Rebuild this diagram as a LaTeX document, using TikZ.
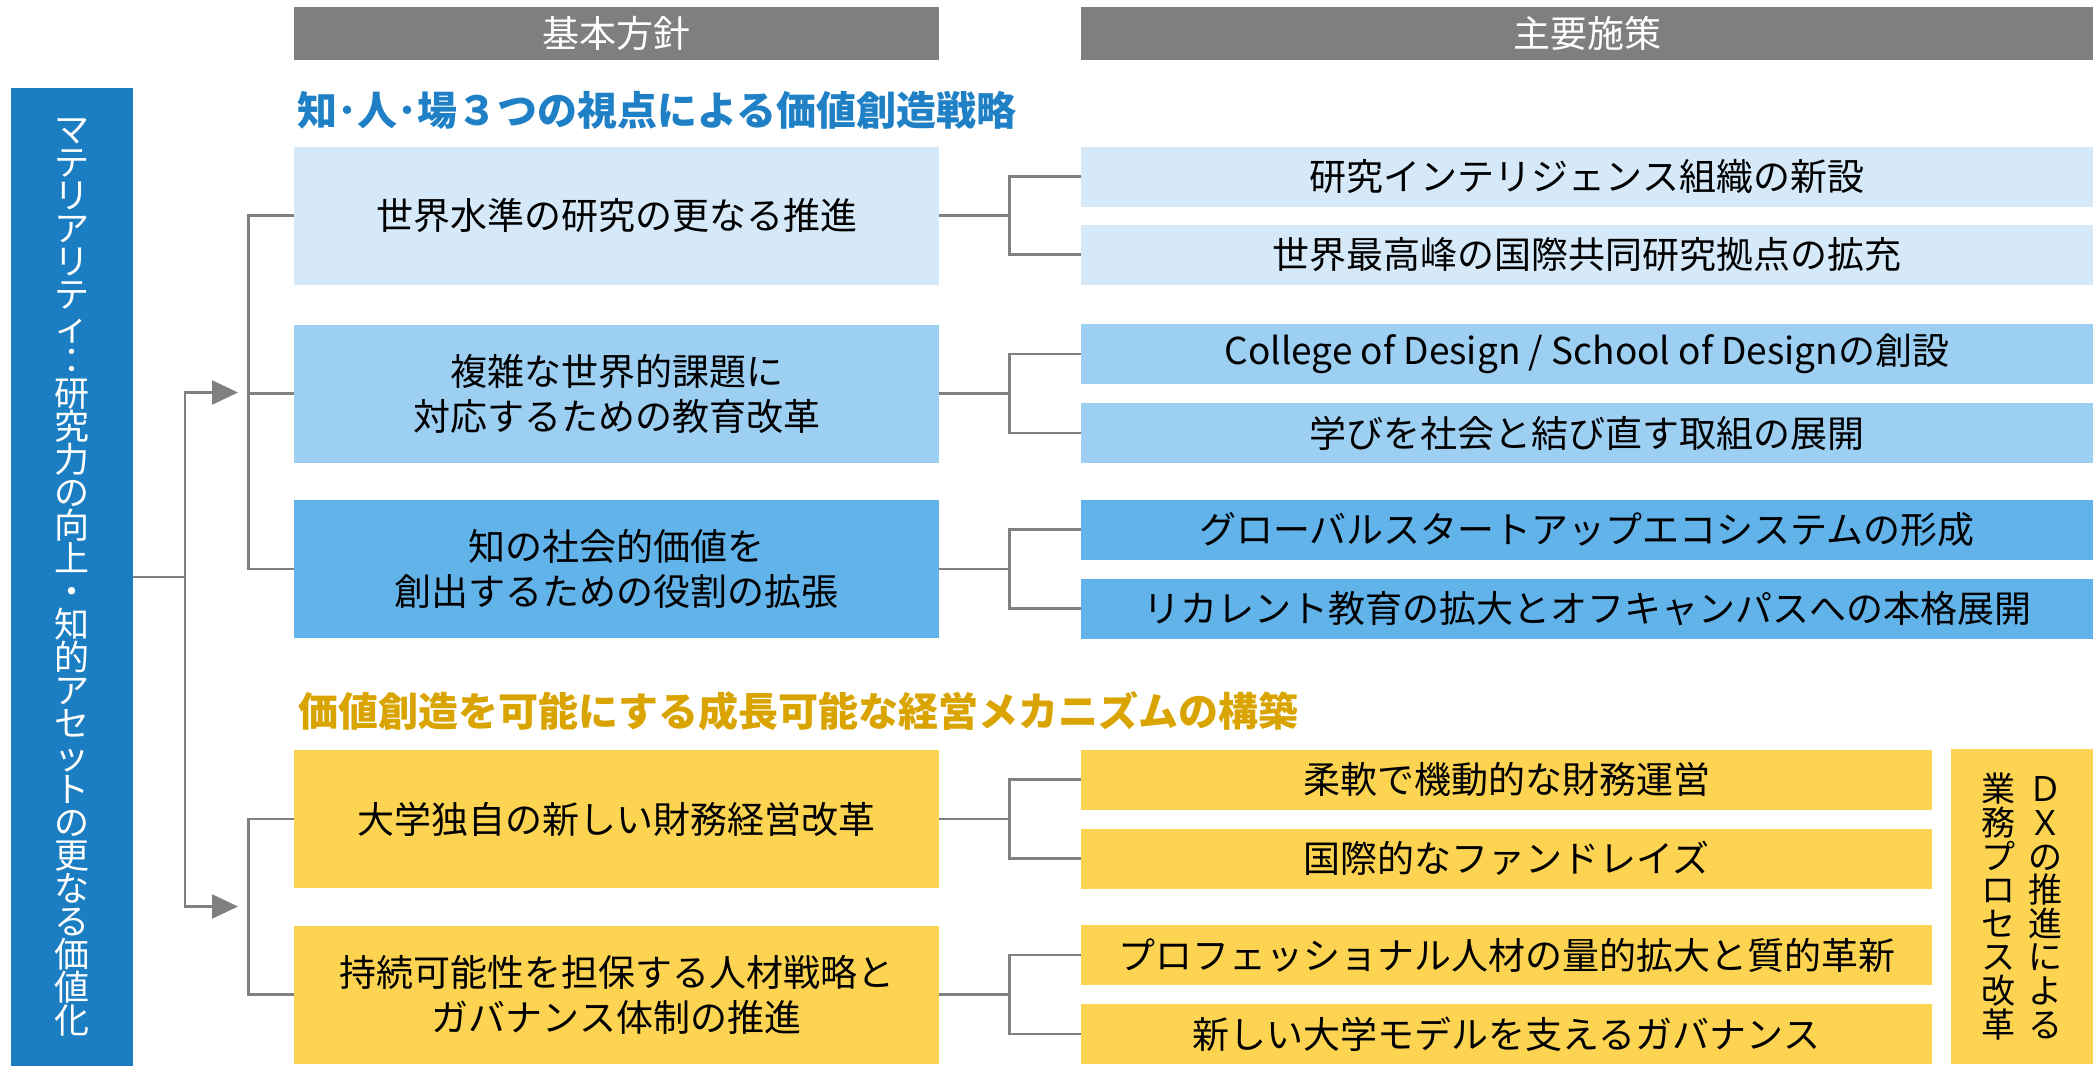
\documentclass[tikz,border=0pt]{standalone}
\usepackage{fontspec}
\setmainfont{Noto Sans CJK JP}
\usetikzlibrary{arrows.meta,positioning,calc}
\definecolor{matblue}{HTML}{1B7EC2}
\definecolor{hdrgray}{HTML}{7F7F7F}
\definecolor{linegray}{HTML}{808080}
\definecolor{blueA}{HTML}{D5E9F8}
\definecolor{blueB}{HTML}{9DCFF3}
\definecolor{blueC}{HTML}{62B3EA}
\definecolor{ylw}{HTML}{FDD451}
\definecolor{ttlblue}{HTML}{1F80C6}
\definecolor{ttlgold}{HTML}{D9A300}
\ExplSyntaxOn
\NewDocumentCommand\tate{mm}{\vbox{\skip_set:Nn\baselineskip{#1}\dim_set:Nn\lineskiplimit{-100pt}
  \tl_map_inline:nn{#2}{\hbox_to_wd:nn{1em}{\hss##1\hss}}}}
\ExplSyntaxOff
\tikzset{every node/.style={inner sep=0pt,align=center},
  hdr/.style={fill=hdrgray,text=white,minimum height=26.5pt,font=\fontsize{18.5}{22}\selectfont},
  ttl/.style={anchor=west,font=\fontsize{20}{24}\selectfont\bfseries},
  pol/.style={minimum width=322.5pt,minimum height=69pt,font=\fontsize{18.5}{22.5}\selectfont},
  msr/.style={minimum width=506pt,minimum height=30pt,font=\fontsize{18.5}{22}\selectfont},
  msry/.style={msr,fill=ylw,minimum width=425.5pt},
  conn/.style={draw=linegray,line width=1.2pt},
  arr/.style={conn,-{Triangle[length=13pt,width=12pt]}}}
\begin{document}
\begin{tikzpicture}[x=0.5pt,y=-0.5pt]
\useasboundingbox (0,0) rectangle (2093,1066);
\node (h1) at (616.5,33.5) [hdr,minimum width=322.5pt] {基本方針};
\node (h2) at (1587,33.5) [hdr,minimum width=506pt] {主要施策};
\node (mat) at (72,577) [fill=matblue,text=white,minimum width=61pt,minimum height=489pt,font=\fontsize{17.5}{17.5}\selectfont]
  {\tate{16.5pt}{マテリアリティ：研究力の向上・知的アセットの更なる価値化}};
\node (t1) at (297,110) [ttl,text=ttlblue] {知･人･場３つの視点による価値創造戦略};
\node (t2) at (298,711) [ttl,text=ttlgold] {価値創造を可能にする成長可能な経営メカニズムの構築};
\node (p1) at (616.5,215.5) [pol,fill=blueA] {世界水準の研究の更なる推進};
\node (p2) at (616.5,393.5) [pol,fill=blueB] {複雑な世界的課題に\\対応するための教育改革};
\node (p3) at (616.5,569) [pol,fill=blueC] {知の社会的価値を\\創出するための役割の拡張};
\node (p4) at (616.5,819) [pol,fill=ylw] {大学独自の新しい財務経営改革};
\node (p5) at (616.5,994.5) [pol,fill=ylw] {持続可能性を担保する人材戦略と\\ガバナンス体制の推進};
\node (m1) at (1587,176.5) [msr,fill=blueA] {研究インテリジェンス組織の新設};
\node (m2) at (1587,254.5) [msr,fill=blueA] {世界最高峰の国際共同研究拠点の拡充};
\node (m3) at (1587,354) [msr,fill=blueB] {College of Design / School of Designの創設};
\node (m4) at (1587,433) [msr,fill=blueB] {学びを社会と結び直す取組の展開};
\node (m5) at (1587,529.5) [msr,fill=blueC] {グローバルスタートアップエコシステムの形成};
\node (m6) at (1587,608.5) [msr,fill=blueC] {リカレント教育の拡大とオフキャンパスへの本格展開};
\node (m7) at (1506.5,779.5) [msry] {柔軟で機動的な財務運営};
\node (m8) at (1506.5,858.5) [msry] {国際的なファンドレイズ};
\node (m9) at (1506.5,955) [msry] {プロフェッショナル人材の量的拡大と質的革新};
\node (m10) at (1506.5,1034) [msry] {新しい大学モデルを支えるガバナンス};
\node (dx) at (2022,906.5) [fill=ylw,minimum width=71pt,minimum height=157.5pt,font=\fontsize{17}{17}\selectfont]
  {\tate{16.8pt}{業務プロセス改革}\hspace{6.5pt}\tate{16.8pt}{ＤＸの推進による}};
\coordinate (j) at (185,577);
\coordinate (a1) at (238,392.5);
\coordinate (a2) at (238,906.5);
\draw[conn] (mat.east) -- (j);
\draw[arr] (j) |- (a1);
\draw[arr] (j) |- (a2);
\draw[conn] (p1.west) -- ++(-45,0) |- (p3.west);
\draw[conn] (p2.west) -- ++(-45,0);
\draw[conn] (p4.west) -- ++(-45,0) |- (p5.west);
\foreach \p/\a/\b in {p1/m1/m2,p2/m3/m4,p3/m5/m6,p4/m7/m8,p5/m9/m10}{
  \draw[conn] (\p.east) -- ++(71,0);
  \draw[conn] (\a.west) -- ++(-71,0) |- (\b.west);}
\end{tikzpicture}
\end{document}
